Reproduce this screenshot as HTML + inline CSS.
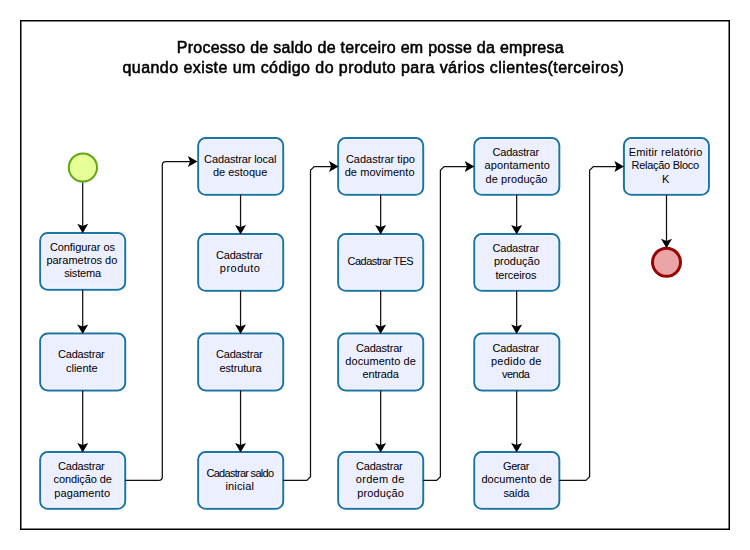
<!DOCTYPE html><html><head><meta charset="utf-8"><style>html,body{margin:0;padding:0;background:#fff;width:750px;height:550px;overflow:hidden;position:relative}svg{display:block}text{font-family:"Liberation Sans",sans-serif}</style></head><body>
<svg width="750" height="550" viewBox="0 0 750 550">
<rect x="0" y="0" width="750" height="550" fill="#fff"/>
<rect x="20.75" y="20.75" width="708.5" height="508.5" fill="none" stroke="#000" stroke-width="1.5"/>
<rect x="40.2" y="232.9" width="85.0" height="56.8" rx="7.5" ry="7.5" fill="#ECEFFF" stroke="#1A75A4" stroke-width="2"/>
<rect x="41.80" y="234.50" width="81.80" height="53.60" rx="5.90" ry="5.90" fill="none" stroke="#fff" stroke-opacity="0.6" stroke-width="1"/>
<text id="t0B_0" class="bt" x="82.40" y="251.20" font-size="11" text-anchor="middle" textLength="65.05" lengthAdjust="spacing" fill="#000">Configurar os</text>
<text id="t0B_1" class="bt" x="81.85" y="264.30" font-size="11" text-anchor="middle" fill="#000">parametros do</text>
<text id="t0B_2" class="bt" x="82.65" y="277.40" font-size="11" text-anchor="middle" textLength="37.01" lengthAdjust="spacing" fill="#000">sistema</text>
<rect x="40.2" y="333.6" width="85.0" height="56.8" rx="7.5" ry="7.5" fill="#ECEFFF" stroke="#1A75A4" stroke-width="2"/>
<rect x="41.80" y="335.20" width="81.80" height="53.60" rx="5.90" ry="5.90" fill="none" stroke="#fff" stroke-opacity="0.6" stroke-width="1"/>
<text id="t0C_0" class="bt" x="81.35" y="358.45" font-size="11" text-anchor="middle" textLength="46.80" lengthAdjust="spacing" fill="#000">Cadastrar</text>
<text id="t0C_1" class="bt" x="81.85" y="371.55" font-size="11" text-anchor="middle" fill="#000">cliente</text>
<rect x="40.2" y="452.0" width="85.0" height="56.8" rx="7.5" ry="7.5" fill="#ECEFFF" stroke="#1A75A4" stroke-width="2"/>
<rect x="41.80" y="453.60" width="81.80" height="53.60" rx="5.90" ry="5.90" fill="none" stroke="#fff" stroke-opacity="0.6" stroke-width="1"/>
<text id="t0D_0" class="bt" x="81.35" y="470.30" font-size="11" text-anchor="middle" textLength="46.80" lengthAdjust="spacing" fill="#000">Cadastrar</text>
<text id="t0D_1" class="bt" x="82.65" y="483.40" font-size="11" text-anchor="middle" textLength="58.23" lengthAdjust="spacing" fill="#000">condição de</text>
<text id="t0D_2" class="bt" x="82.15" y="496.50" font-size="11" text-anchor="middle" textLength="55.75" lengthAdjust="spacing" fill="#000">pagamento</text>
<rect x="198.2" y="138.0" width="85.0" height="56.8" rx="7.5" ry="7.5" fill="#ECEFFF" stroke="#1A75A4" stroke-width="2"/>
<rect x="199.80" y="139.60" width="81.80" height="53.60" rx="5.90" ry="5.90" fill="none" stroke="#fff" stroke-opacity="0.6" stroke-width="1"/>
<text id="t1A_0" class="bt" x="240.25" y="162.85" font-size="11" text-anchor="middle" textLength="72.28" lengthAdjust="spacing" fill="#000">Cadastrar local</text>
<text id="t1A_1" class="bt" x="240.10" y="175.95" font-size="11" text-anchor="middle" fill="#000">de estoque</text>
<rect x="198.2" y="234.0" width="85.0" height="56.8" rx="7.5" ry="7.5" fill="#ECEFFF" stroke="#1A75A4" stroke-width="2"/>
<rect x="199.80" y="235.60" width="81.80" height="53.60" rx="5.90" ry="5.90" fill="none" stroke="#fff" stroke-opacity="0.6" stroke-width="1"/>
<text id="t1B_0" class="bt" x="239.35" y="258.85" font-size="11" text-anchor="middle" textLength="46.80" lengthAdjust="spacing" fill="#000">Cadastrar</text>
<text id="t1B_1" class="bt" x="239.90" y="271.95" font-size="11" text-anchor="middle" textLength="40.11" lengthAdjust="spacing" fill="#000">produto</text>
<rect x="198.2" y="333.6" width="85.0" height="56.8" rx="7.5" ry="7.5" fill="#ECEFFF" stroke="#1A75A4" stroke-width="2"/>
<rect x="199.80" y="335.20" width="81.80" height="53.60" rx="5.90" ry="5.90" fill="none" stroke="#fff" stroke-opacity="0.6" stroke-width="1"/>
<text id="t1C_0" class="bt" x="239.35" y="358.45" font-size="11" text-anchor="middle" textLength="46.80" lengthAdjust="spacing" fill="#000">Cadastrar</text>
<text id="t1C_1" class="bt" x="240.55" y="371.55" font-size="11" text-anchor="middle" textLength="42.12" lengthAdjust="spacing" fill="#000">estrutura</text>
<rect x="198.2" y="452.0" width="85.0" height="56.8" rx="7.5" ry="7.5" fill="#ECEFFF" stroke="#1A75A4" stroke-width="2"/>
<rect x="199.80" y="453.60" width="81.80" height="53.60" rx="5.90" ry="5.90" fill="none" stroke="#fff" stroke-opacity="0.6" stroke-width="1"/>
<text id="t1D_0" class="bt" x="240.25" y="476.85" font-size="11" text-anchor="middle" textLength="67.56" lengthAdjust="spacing" fill="#000">Cadastrar saldo</text>
<text id="t1D_1" class="bt" x="239.70" y="489.95" font-size="11" text-anchor="middle" textLength="28.32" lengthAdjust="spacing" fill="#000">inicial</text>
<rect x="338.2" y="138.0" width="85.0" height="56.8" rx="7.5" ry="7.5" fill="#ECEFFF" stroke="#1A75A4" stroke-width="2"/>
<rect x="339.80" y="139.60" width="81.80" height="53.60" rx="5.90" ry="5.90" fill="none" stroke="#fff" stroke-opacity="0.6" stroke-width="1"/>
<text id="t2A_0" class="bt" x="380.45" y="162.85" font-size="11" text-anchor="middle" fill="#000">Cadastrar tipo</text>
<text id="t2A_1" class="bt" x="379.60" y="175.95" font-size="11" text-anchor="middle" textLength="69.89" lengthAdjust="spacing" fill="#000">de movimento</text>
<rect x="338.2" y="234.0" width="85.0" height="56.8" rx="7.5" ry="7.5" fill="#ECEFFF" stroke="#1A75A4" stroke-width="2"/>
<rect x="339.80" y="235.60" width="81.80" height="53.60" rx="5.90" ry="5.90" fill="none" stroke="#fff" stroke-opacity="0.6" stroke-width="1"/>
<text id="t2B_0" class="bt" x="380.65" y="264.60" font-size="11" text-anchor="middle" textLength="66.06" lengthAdjust="spacing" fill="#000">Cadastrar TES</text>
<rect x="338.2" y="333.6" width="85.0" height="56.8" rx="7.5" ry="7.5" fill="#ECEFFF" stroke="#1A75A4" stroke-width="2"/>
<rect x="339.80" y="335.20" width="81.80" height="53.60" rx="5.90" ry="5.90" fill="none" stroke="#fff" stroke-opacity="0.6" stroke-width="1"/>
<text id="t2C_0" class="bt" x="379.35" y="351.90" font-size="11" text-anchor="middle" textLength="46.80" lengthAdjust="spacing" fill="#000">Cadastrar</text>
<text id="t2C_1" class="bt" x="380.55" y="365.00" font-size="11" text-anchor="middle" textLength="70.42" lengthAdjust="spacing" fill="#000">documento de</text>
<text id="t2C_2" class="bt" x="380.65" y="378.10" font-size="11" text-anchor="middle" textLength="36.41" lengthAdjust="spacing" fill="#000">entrada</text>
<rect x="338.2" y="452.0" width="85.0" height="56.8" rx="7.5" ry="7.5" fill="#ECEFFF" stroke="#1A75A4" stroke-width="2"/>
<rect x="339.80" y="453.60" width="81.80" height="53.60" rx="5.90" ry="5.90" fill="none" stroke="#fff" stroke-opacity="0.6" stroke-width="1"/>
<text id="t2D_0" class="bt" x="379.35" y="470.30" font-size="11" text-anchor="middle" textLength="46.80" lengthAdjust="spacing" fill="#000">Cadastrar</text>
<text id="t2D_1" class="bt" x="380.10" y="483.40" font-size="11" text-anchor="middle" textLength="48.48" lengthAdjust="spacing" fill="#000">ordem de</text>
<text id="t2D_2" class="bt" x="380.55" y="496.50" font-size="11" text-anchor="middle" textLength="46.57" lengthAdjust="spacing" fill="#000">produção</text>
<rect x="474.3" y="138.0" width="85.0" height="56.8" rx="7.5" ry="7.5" fill="#ECEFFF" stroke="#1A75A4" stroke-width="2"/>
<rect x="475.90" y="139.60" width="81.80" height="53.60" rx="5.90" ry="5.90" fill="none" stroke="#fff" stroke-opacity="0.6" stroke-width="1"/>
<text id="t3A_0" class="bt" x="515.85" y="156.30" font-size="11" text-anchor="middle" textLength="46.60" lengthAdjust="spacing" fill="#000">Cadastrar</text>
<text id="t3A_1" class="bt" x="517.15" y="169.40" font-size="11" text-anchor="middle" textLength="65.52" lengthAdjust="spacing" fill="#000">apontamento</text>
<text id="t3A_2" class="bt" x="516.55" y="182.50" font-size="11" text-anchor="middle" textLength="61.87" lengthAdjust="spacing" fill="#000">de produção</text>
<rect x="474.3" y="234.0" width="85.0" height="56.8" rx="7.5" ry="7.5" fill="#ECEFFF" stroke="#1A75A4" stroke-width="2"/>
<rect x="475.90" y="235.60" width="81.80" height="53.60" rx="5.90" ry="5.90" fill="none" stroke="#fff" stroke-opacity="0.6" stroke-width="1"/>
<text id="t3B_0" class="bt" x="515.85" y="252.30" font-size="11" text-anchor="middle" textLength="46.60" lengthAdjust="spacing" fill="#000">Cadastrar</text>
<text id="t3B_1" class="bt" x="516.90" y="265.40" font-size="11" text-anchor="middle" fill="#000">produção</text>
<text id="t3B_2" class="bt" x="516.00" y="278.50" font-size="11" text-anchor="middle" textLength="41.19" lengthAdjust="spacing" fill="#000">terceiros</text>
<rect x="474.3" y="333.6" width="85.0" height="56.8" rx="7.5" ry="7.5" fill="#ECEFFF" stroke="#1A75A4" stroke-width="2"/>
<rect x="475.90" y="335.20" width="81.80" height="53.60" rx="5.90" ry="5.90" fill="none" stroke="#fff" stroke-opacity="0.6" stroke-width="1"/>
<text id="t3C_0" class="bt" x="515.85" y="351.90" font-size="11" text-anchor="middle" textLength="46.60" lengthAdjust="spacing" fill="#000">Cadastrar</text>
<text id="t3C_1" class="bt" x="516.20" y="365.00" font-size="11" text-anchor="middle" textLength="50.53" lengthAdjust="spacing" fill="#000">pedido de</text>
<text id="t3C_2" class="bt" x="515.95" y="378.10" font-size="11" text-anchor="middle" textLength="27.88" lengthAdjust="spacing" fill="#000">venda</text>
<rect x="474.3" y="452.0" width="85.0" height="56.8" rx="7.5" ry="7.5" fill="#ECEFFF" stroke="#1A75A4" stroke-width="2"/>
<rect x="475.90" y="453.60" width="81.80" height="53.60" rx="5.90" ry="5.90" fill="none" stroke="#fff" stroke-opacity="0.6" stroke-width="1"/>
<text id="t3D_0" class="bt" x="516.25" y="470.30" font-size="11" text-anchor="middle" textLength="26.43" lengthAdjust="spacing" fill="#000">Gerar</text>
<text id="t3D_1" class="bt" x="516.65" y="483.40" font-size="11" text-anchor="middle" textLength="70.42" lengthAdjust="spacing" fill="#000">documento de</text>
<text id="t3D_2" class="bt" x="516.40" y="496.50" font-size="11" text-anchor="middle" textLength="25.72" lengthAdjust="spacing" fill="#000">saída</text>
<rect x="623.9" y="138.0" width="85.0" height="56.8" rx="7.5" ry="7.5" fill="#ECEFFF" stroke="#1A75A4" stroke-width="2"/>
<rect x="625.50" y="139.60" width="81.80" height="53.60" rx="5.90" ry="5.90" fill="none" stroke="#fff" stroke-opacity="0.6" stroke-width="1"/>
<text id="t4A_0" class="bt" x="665.50" y="156.30" font-size="11" text-anchor="middle" textLength="73.51" lengthAdjust="spacing" fill="#000">Emitir relatório</text>
<text id="t4A_1" class="bt" x="665.30" y="169.40" font-size="11" text-anchor="middle" textLength="67.54" lengthAdjust="spacing" fill="#000">Relação Bloco</text>
<text id="t4A_2" class="bt" x="665.60" y="182.50" font-size="11" text-anchor="middle" fill="#000">K</text>
<circle cx="666.5" cy="262.3" r="14" fill="#EBA5A6" stroke="#990000" stroke-width="3"/>
<circle cx="82.9" cy="167.5" r="14.1" fill="#E6FF97" stroke="#62A716" stroke-width="2"/>
<line x1="82.7" y1="182.5" x2="82.7" y2="226.9" stroke="#111" stroke-width="1.25"/>
<path d="M82.7,233.3 L77.2,223.8 L82.7,225.9 L88.2,223.8 Z" fill="#000"/>
<line x1="82.7" y1="289.7" x2="82.7" y2="327.6" stroke="#111" stroke-width="1.25"/>
<path d="M82.7,334.0 L77.2,324.5 L82.7,326.6 L88.2,324.5 Z" fill="#000"/>
<line x1="82.7" y1="390.40000000000003" x2="82.7" y2="446.0" stroke="#111" stroke-width="1.25"/>
<path d="M82.7,452.4 L77.2,442.9 L82.7,445.0 L88.2,442.9 Z" fill="#000"/>
<line x1="240.55" y1="194.8" x2="240.55" y2="228.0" stroke="#111" stroke-width="1.25"/>
<path d="M240.55,234.4 L235.05,224.9 L240.55,227.0 L246.05,224.9 Z" fill="#000"/>
<line x1="240.55" y1="290.8" x2="240.55" y2="327.6" stroke="#111" stroke-width="1.25"/>
<path d="M240.55,334.0 L235.05,324.5 L240.55,326.6 L246.05,324.5 Z" fill="#000"/>
<line x1="240.55" y1="390.40000000000003" x2="240.55" y2="446.0" stroke="#111" stroke-width="1.25"/>
<path d="M240.55,452.4 L235.05,442.9 L240.55,445.0 L246.05,442.9 Z" fill="#000"/>
<line x1="380.65" y1="194.8" x2="380.65" y2="228.0" stroke="#111" stroke-width="1.25"/>
<path d="M380.65,234.4 L375.15,224.9 L380.65,227.0 L386.15,224.9 Z" fill="#000"/>
<line x1="380.65" y1="290.8" x2="380.65" y2="327.6" stroke="#111" stroke-width="1.25"/>
<path d="M380.65,334.0 L375.15,324.5 L380.65,326.6 L386.15,324.5 Z" fill="#000"/>
<line x1="380.65" y1="390.40000000000003" x2="380.65" y2="446.0" stroke="#111" stroke-width="1.25"/>
<path d="M380.65,452.4 L375.15,442.9 L380.65,445.0 L386.15,442.9 Z" fill="#000"/>
<line x1="516.65" y1="194.8" x2="516.65" y2="228.0" stroke="#111" stroke-width="1.25"/>
<path d="M516.65,234.4 L511.15,224.9 L516.65,227.0 L522.15,224.9 Z" fill="#000"/>
<line x1="516.65" y1="290.8" x2="516.65" y2="327.6" stroke="#111" stroke-width="1.25"/>
<path d="M516.65,334.0 L511.15,324.5 L516.65,326.6 L522.15,324.5 Z" fill="#000"/>
<line x1="516.65" y1="390.40000000000003" x2="516.65" y2="446.0" stroke="#111" stroke-width="1.25"/>
<path d="M516.65,452.4 L511.15,442.9 L516.65,445.0 L522.15,442.9 Z" fill="#000"/>
<line x1="666.5" y1="194.8" x2="666.5" y2="241" stroke="#111" stroke-width="1.25"/>
<path d="M666.5,248.3 L661.0,238.8 L666.5,240.9 L672.0,238.8 Z" fill="#000"/>
<path d="M125.2,480.4 L158.60000000000002,480.4 Q162.3,480.4 162.3,476.7 L162.3,165.2 Q162.3,161.5 166.0,161.5 L191.4,161.5" fill="none" stroke="#111" stroke-width="1.25"/><path d="M197.4,161.5 L187.9,156.0 L190.0,161.5 L187.9,167.0 Z" fill="#000"/>
<path d="M283.2,480.4 L306.8,480.4 L310.5,476.7 L310.5,170.2 L314.2,166.5 L332.5,166.5" fill="none" stroke="#111" stroke-width="1.25"/><path d="M338.5,166.5 L329.0,161.0 L331.1,166.5 L329.0,172.0 Z" fill="#000"/>
<path d="M423.2,480.4 L436.7,480.4 L440.4,476.7 L440.4,170.2 L444.09999999999997,166.5 L468.3,166.5" fill="none" stroke="#111" stroke-width="1.25"/><path d="M474.3,166.5 L464.8,161.0 L466.90000000000003,166.5 L464.8,172.0 Z" fill="#000"/>
<path d="M559.3,480.4 L585.9,480.4 L589.6,476.7 L589.6,170.2 L593.3000000000001,166.5 L617.9,166.5" fill="none" stroke="#111" stroke-width="1.25"/><path d="M623.9,166.5 L614.4,161.0 L616.5,166.5 L614.4,172.0 Z" fill="#000"/>
</svg>
<svg width="750" height="550" viewBox="0 0 750 550" style="position:absolute;left:0;top:0;will-change:transform">
<text x="176.7" y="53" font-size="16" textLength="387.0" lengthAdjust="spacing" fill="#000" stroke="#000" stroke-width="0.55">Processo de saldo de terceiro em posse da empresa</text>
<text x="122.5" y="72.7" font-size="16" textLength="501.4" lengthAdjust="spacing" fill="#000" stroke="#000" stroke-width="0.55">quando existe um código do produto para vários clientes(terceiros)</text>
</svg></body></html>
